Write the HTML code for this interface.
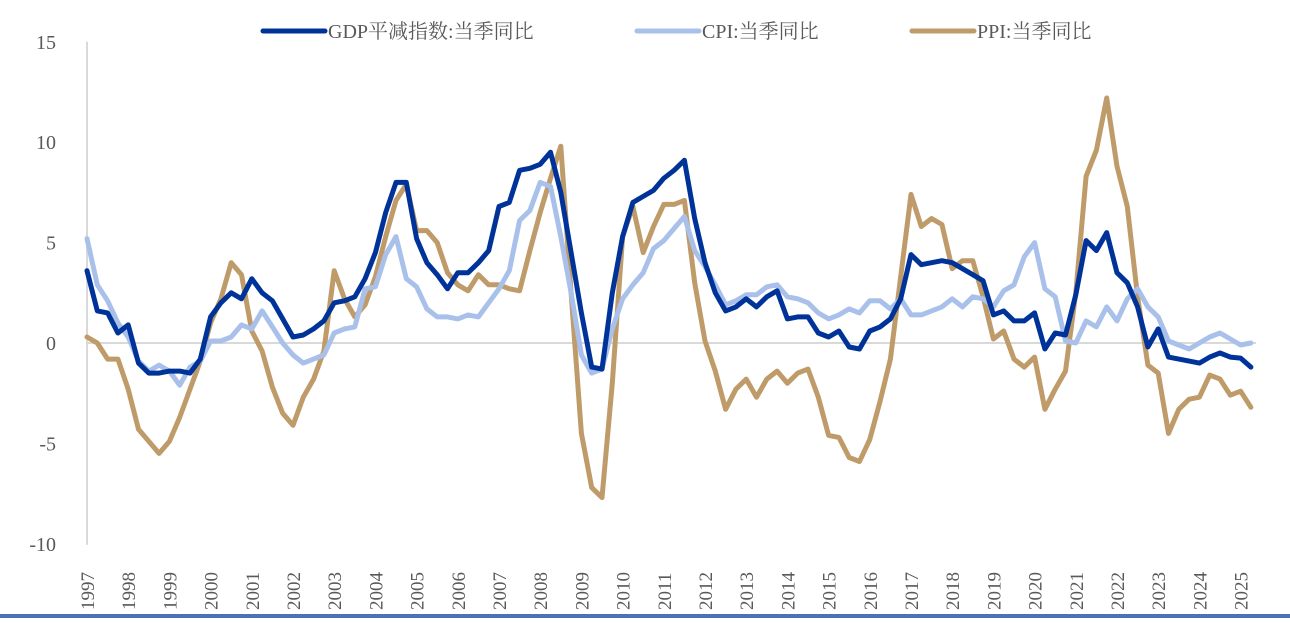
<!DOCTYPE html>
<html><head><meta charset="utf-8"><style>
html,body{margin:0;padding:0;background:#fff;}
svg text{font-family:"Liberation Serif","Noto Serif CJK SC",serif;fill:#595959;}
</style></head><body>
<svg id="chart" width="1290" height="618" xmlns="http://www.w3.org/2000/svg">
<rect x="0" y="0" width="1290" height="618" fill="#fff"/>
<g id="legend">
 <g>
  <line x1="263" y1="31" x2="325" y2="31" stroke="#003399" stroke-width="5" stroke-linecap="round"/>
  <text x="328" y="38" font-size="20">GDP平减指数:当季同比</text></g>
 <g>
  <line x1="637" y1="31" x2="699" y2="31" stroke="#a9c1ea" stroke-width="5" stroke-linecap="round"/>
  <text x="702" y="38" font-size="20">CPI:当季同比</text></g>
 <g>
  <line x1="912" y1="31" x2="974" y2="31" stroke="#bf9b6a" stroke-width="5" stroke-linecap="round"/>
  <text x="977" y="38" font-size="20">PPI:当季同比</text></g>
</g>
<g id="axes"></g>
<g id="series"></g>
<rect x="0" y="614" width="1290" height="4" fill="#4a72b8"/>
</svg>
<script>
const yTicks=[15,10,5,0,-5,-10];
const years=[1997,1998,1999,2000,2001,2002,2003,2004,2005,2006,2007,2008,2009,2010,2011,2012,2013,2014,2015,2016,2017,2018,2019,2020,2021,2022,2023,2024,2025];
const gdpDeflator=[3.6,1.6,1.5,0.5, 0.9,-1.0,-1.5,-1.5, -1.4,-1.4,-1.5,-0.8, 1.3,2.0,2.5,2.2, 3.2,2.5,2.1,1.2, 0.3,0.4,0.7,1.1, 2.0,2.1,2.3,3.2, 4.5,6.5,8.0,8.0, 5.2,4.0,3.4,2.7, 3.5,3.5,4.0,4.6, 6.8,7.0,8.6,8.7, 8.9,9.5,7.5,4.5, 1.5,-1.2,-1.3,2.5, 5.3,7.0,7.3,7.6, 8.2,8.6,9.1,6.2, 4.0,2.5,1.6,1.8, 2.2,1.8,2.3,2.6, 1.2,1.3,1.3,0.5, 0.3,0.6,-0.2,-0.3, 0.6,0.8,1.2,2.2, 4.4,3.9,4.0,4.1, 4.0,3.7,3.4,3.1, 1.4,1.6,1.1,1.1, 1.5,-0.3,0.5,0.4, 2.4,5.1,4.6,5.5, 3.5,3.0,1.8,-0.2, 0.7,-0.7,-0.8,-0.9, -1.0,-0.7,-0.5,-0.7, -0.75,-1.2];
const cpi=[5.2,2.9,2.1,1.0, 0.3,-0.9,-1.4,-1.1, -1.4,-2.1,-1.2,-0.9, 0.1,0.1,0.3,0.9, 0.7,1.6,0.8,0.0, -0.6,-1.0,-0.8,-0.6, 0.5,0.7,0.8,2.7, 2.8,4.4,5.3,3.2, 2.8,1.7,1.3,1.3, 1.2,1.4,1.3,2.0, 2.7,3.6,6.1,6.6, 8.0,7.8,5.3,2.5, -0.6,-1.5,-1.3,0.7, 2.2,2.9,3.5,4.7, 5.1,5.7,6.3,4.6, 3.8,2.9,1.9,2.1, 2.4,2.4,2.8,2.9, 2.3,2.2,2.0,1.5, 1.2,1.4,1.7,1.5, 2.1,2.1,1.7,2.2, 1.4,1.4,1.6,1.8, 2.2,1.8,2.3,2.2, 1.8,2.6,2.9,4.3, 5.0,2.7,2.3,0.1, 0.0,1.1,0.8,1.8, 1.1,2.2,2.7,1.8, 1.3,0.1,-0.1,-0.3, 0.0,0.3,0.5,0.2, -0.1,0.0];
const ppi=[0.3,0.0,-0.8,-0.8, -2.3,-4.3,-4.9,-5.5, -4.9,-3.7,-2.3,-0.9, 1.0,2.2,4.0,3.4, 0.6,-0.4,-2.2,-3.5, -4.1,-2.7,-1.8,-0.4, 3.6,2.2,1.3,1.9, 3.3,5.3,7.1,7.9, 5.6,5.6,5.0,3.5, 2.9,2.6,3.4,2.9, 2.9,2.7,2.6,4.6, 6.5,8.2,9.8,2.5, -4.5,-7.2,-7.7,-2.0, 5.3,6.8,4.5,5.8, 6.9,6.9,7.1,3.0, 0.1,-1.4,-3.3,-2.3, -1.8,-2.7,-1.8,-1.4, -2.0,-1.5,-1.3,-2.7, -4.6,-4.7,-5.7,-5.9, -4.8,-2.9,-0.8,3.3, 7.4,5.8,6.2,5.9, 3.7,4.1,4.1,2.3, 0.2,0.6,-0.8,-1.2, -0.7,-3.3,-2.3,-1.4, 2.5,8.3,9.6,12.2, 8.8,6.8,2.3,-1.1, -1.5,-4.5,-3.3,-2.8, -2.7,-1.6,-1.8,-2.6, -2.4,-3.2];

const NS='http://www.w3.org/2000/svg';
const x0=87, qStep=10.3, yZero=343, perUnit=20.08;
function xScale(i){return x0+i*qStep;}
function yScale(v){return yZero-v*perUnit;}
function mk(tag,attrs,parent){const e=document.createElementNS(NS,tag);for(const k in attrs)e.setAttribute(k,attrs[k]);parent.appendChild(e);return e;}
const axes=document.getElementById('axes');
const yAxis=mk('line',{x1:x0,y1:yScale(15),x2:x0,y2:yScale(-10)+1,stroke:'#d9d9d9','stroke-width':2},axes);


const zl=mk('line',{x1:x0,y1:yZero,x2:1256,y2:yZero,stroke:'#d9d9d9','stroke-width':2},axes);


yTicks.forEach(t=>{
 const tx=mk('text',{x:56,y:yScale(t)+7,'text-anchor':'end','font-size':20},axes);
 tx.textContent=String(t);
 
 
});
years.forEach((yr,k)=>{
 const cx=xScale(k*4)+7, by=610;
 const tx=mk('text',{x:cx,y:by,transform:'rotate(-90 '+cx+' '+by+')','font-size':19},axes);
 tx.textContent=String(yr);
 
 
});
const series=document.getElementById('series');
function draw(arr,color,name){
 const d=arr.map((v,i)=>(i?'L':'M')+xScale(i).toFixed(1)+' '+yScale(v).toFixed(1)).join(' ');
 const p=mk('path',{d:d,fill:'none',stroke:color,'stroke-width':5,'stroke-linejoin':'round','stroke-linecap':'round'},series);
 
 
}
draw(ppi,'#bf9b6a','ppi-line');
draw(cpi,'#a9c1ea','cpi-line');
draw(gdpDeflator,'#003399','gdp-deflator-line');
</script>
</body></html>
